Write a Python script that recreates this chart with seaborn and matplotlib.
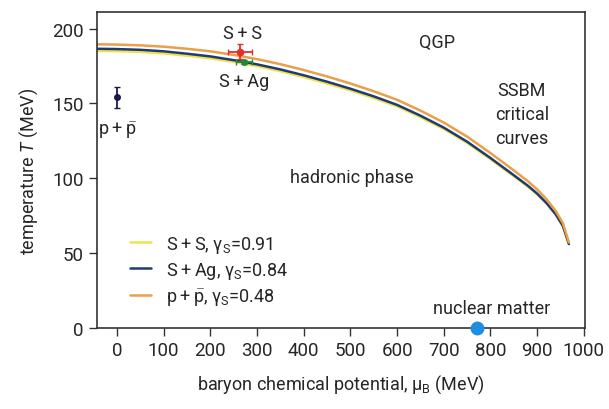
import numpy as np
import pandas as pd
import matplotlib
matplotlib.use("Agg")
import matplotlib.pyplot as plt
import seaborn as sns

# ---- data ----
mu = [-43, 0, 50, 100, 150, 200, 250, 300, 350, 400, 450, 500, 550, 600, 650,
      700, 750, 800, 850, 880, 900, 920, 940, 955, 968]
T_SS = [185.0, 184.9, 184.4, 183.4, 181.9, 180.1, 177.7, 174.9, 171.5, 167.6, 163.3, 158.7,
        153.6, 148.0, 140.8, 132.9, 123.6, 112.7, 101.3, 94.4, 89.2, 83.0, 75.5, 68.0, 56.0]
T_SAg = [186.5, 186.3, 185.8, 184.8, 183.2, 181.4, 178.9, 176.1, 172.7, 168.8, 164.5, 159.8,
         154.7, 149.0, 141.8, 133.8, 124.4, 113.5, 102.0, 95.0, 89.7, 83.4, 75.8, 68.2, 56.0]
T_pp = [189.5, 189.3, 188.8, 187.9, 186.5, 184.8, 182.4, 179.6, 176.2, 172.3, 168.0, 163.3,
        158.1, 152.4, 145.2, 137.2, 127.8, 116.8, 105.2, 98.0, 92.5, 86.0, 78.0, 70.0, 57.0]
series_labels = ["S\u2009+\u2009S, γ$_\\mathrm{S}$=0.91", "S\u2009+\u2009Ag, γ$_\\mathrm{S}$=0.84",
                 "p\u2009+\u2009$\\bar{\\mathrm{p}}$, γ$_\\mathrm{S}$=0.48"]
series_colors = ["#f2e24a", "#1c3c78", "#e9a048"]

# data points (mu, T, xerr, yerr)
pp_pt = (0, 154, 0, 7)
SS_pt = (263, 184.5, 26, 5)
SAg_pt = (272, 177.5, 17, 1.5)
nuc_pt = (771, 0)

xticks = [0, 100, 200, 300, 400, 500, 600, 700, 800, 900, 1000]
yticks = [0, 50, 100, 150, 200]

sns.set_theme(style="ticks")
plt.rcParams["font.family"] = ["Roboto", "DejaVu Sans"]
plt.rcParams["mathtext.fontset"] = "custom"
plt.rcParams["mathtext.rm"] = "Roboto"
plt.rcParams["mathtext.it"] = "Roboto:italic"
plt.rcParams["mathtext.bf"] = "Roboto:bold"

df = pd.DataFrame({
    "mu": mu * 3,
    "T": T_SS + T_SAg + T_pp,
    "series": [series_labels[0]] * len(mu) + [series_labels[1]] * len(mu) + [series_labels[2]] * len(mu),
})

fig = plt.figure(figsize=(6.09, 4.10), dpi=100)
ax = fig.add_axes([0.159, 0.198, 0.802, 0.770])

sns.lineplot(data=df, x="mu", y="T", hue="series", palette=series_colors,
             hue_order=series_labels, linewidth=1.8, ax=ax, sort=False)

# experimental points
ax.errorbar(pp_pt[0], pp_pt[1], yerr=pp_pt[3], fmt="o", color="#1a1a50",
            ms=4, capsize=2.5, elinewidth=1.3, zorder=5)
ax.errorbar(SAg_pt[0], SAg_pt[1], xerr=SAg_pt[2], yerr=SAg_pt[3], fmt="o", color="#1e8a3a",
            ms=4, capsize=2, elinewidth=1.3, zorder=5)
ax.errorbar(SS_pt[0], SS_pt[1], xerr=SS_pt[2], yerr=SS_pt[3], fmt="o", color="#e0302a",
            ms=4.5, capsize=2.5, elinewidth=1.3, zorder=6)
ax.plot(nuc_pt[0], nuc_pt[1], "o", color="#1f8ee0", ms=9, clip_on=False, zorder=10)

fs = 13
ax.text(268, 197, "S\u2009+\u2009S", ha="center", va="center", fontsize=fs)
ax.text(272, 165, "S\u2009+\u2009Ag", ha="center", va="center", fontsize=fs)
ax.text(2, 132.5, "p\u2009+\u2009$\\bar{\\mathrm{p}}$", ha="center", va="center", fontsize=fs)
ax.text(686, 191, "QGP", ha="center", va="center", fontsize=fs)
ax.text(867, 143, "SSBM\ncritical\ncurves", ha="center", va="center", fontsize=fs, linespacing=1.45)
ax.text(503, 101, "hadronic phase", ha="center", va="center", fontsize=fs)
ax.text(803, 13, "nuclear matter", ha="center", va="center", fontsize=fs)

leg = ax.legend(loc="lower left", bbox_to_anchor=(0.035, 0.015), frameon=False,
                fontsize=fs, handlelength=1.15, handletextpad=0.85, labelspacing=0.28)

ax.set_xlim(-43, 1003)
ax.set_ylim(0, 211)
ax.set_xticks(xticks)
ax.set_yticks(yticks)
ax.tick_params(axis="both", labelsize=13.5, length=6, width=1.0, color="#333333", direction="out")
ax.set_xlabel("baryon chemical potential, μ$_\\mathrm{B}$ (MeV)", fontsize=13, labelpad=10)
ax.set_ylabel("temperature $T$ (MeV)", fontsize=13, labelpad=9)
for s in ax.spines.values():
    s.set_color("#333333")
    s.set_linewidth(1.2)

fig.savefig("out.png", dpi=100)
